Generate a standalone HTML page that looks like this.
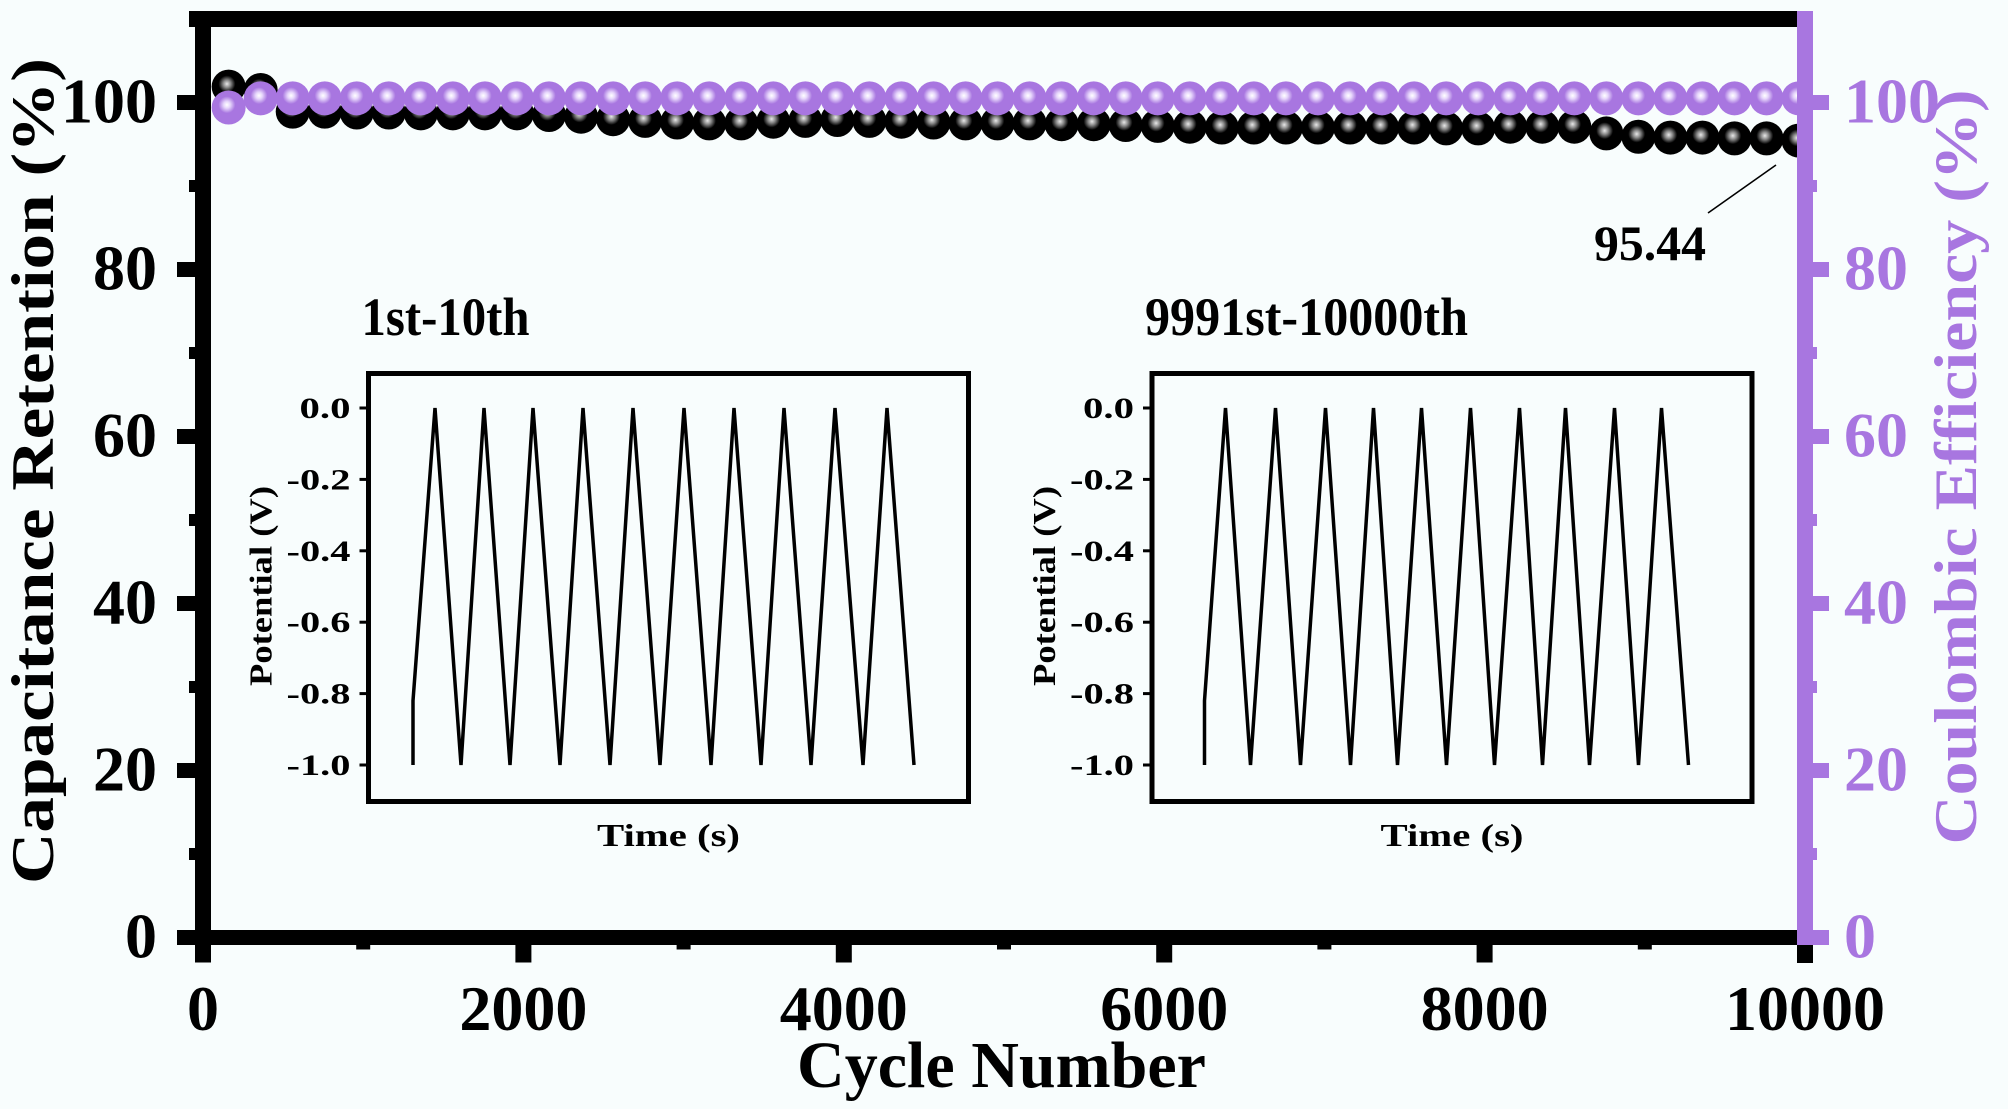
<!DOCTYPE html>
<html><head><meta charset="utf-8"><style>
html,body{margin:0;padding:0;background:#f8fdfd;}
svg{display:block;font-family:"Liberation Serif",serif;}
</style></head><body>
<svg id="chart" width="2008" height="1109" viewBox="0 0 2008 1109" xmlns="http://www.w3.org/2000/svg">
<defs>
<radialGradient id="gp" cx="0.45" cy="0.42" r="0.55"><stop offset="0" stop-color="#ffffff"/><stop offset="0.18" stop-color="#e6d6fb"/><stop offset="0.45" stop-color="#a876e0"/><stop offset="1" stop-color="#a876e0"/></radialGradient>
<radialGradient id="gb" cx="0.45" cy="0.42" r="0.55"><stop offset="0" stop-color="#e8e8e8"/><stop offset="0.2" stop-color="#8a8a8a"/><stop offset="0.45" stop-color="#000"/><stop offset="1" stop-color="#000"/></radialGradient>
</defs>
<rect width="2008" height="1109" fill="#f8fdfd"/>
<g id="marks"></g>
<g id="axes"></g>
<g id="insets"></g>
<text transform="translate(53,471) rotate(-90)" text-anchor="middle" font-size="60" font-weight="bold" textLength="826" lengthAdjust="spacingAndGlyphs">Capacitance Retention (%)</text>
<text transform="translate(1976,467) rotate(-90)" text-anchor="middle" font-size="60" font-weight="bold" fill="#a876e0" textLength="755" lengthAdjust="spacingAndGlyphs">Coulombic Efficiency (%)</text>
<text x="797" y="1087" font-size="66" font-weight="bold" textLength="409" lengthAdjust="spacingAndGlyphs">Cycle Number</text>
<text x="1594" y="260" font-size="50" font-weight="bold" textLength="112" lengthAdjust="spacingAndGlyphs">95.44</text>
<line x1="1708" y1="213" x2="1776" y2="165" stroke="#000" stroke-width="1.6"/>
</svg>
<script>
// ---- main chart data ----
const cycles = [160,360,560,760,960,1160,1360,1560,1760,1960,2160,2360,2560,2760,2960,3160,3360,3560,3760,3960,4160,4360,4560,4760,4960,5160,5360,5560,5760,5960,6160,6360,6560,6760,6960,7160,7360,7560,7760,7960,8160,8360,8560,8760,8960,9160,9360,9560,9760,9960];
const retention = [101.9,101.5,98.9,98.9,98.8,98.8,98.7,98.7,98.7,98.7,98.5,98.3,98.0,97.8,97.6,97.5,97.5,97.7,97.8,97.9,97.8,97.7,97.6,97.5,97.5,97.5,97.4,97.4,97.3,97.2,97.1,97.0,97.0,97.0,97.0,97.0,97.0,97.0,96.9,96.9,97.1,97.1,97.1,96.3,95.9,95.8,95.8,95.7,95.7,95.44];
const efficiency = [99.4,100.5,100.5,100.5,100.5,100.5,100.5,100.5,100.5,100.5,100.5,100.5,100.5,100.5,100.5,100.5,100.5,100.5,100.5,100.5,100.5,100.5,100.5,100.5,100.5,100.5,100.5,100.5,100.5,100.5,100.5,100.5,100.5,100.5,100.5,100.5,100.5,100.5,100.5,100.5,100.5,100.5,100.5,100.5,100.5,100.5,100.5,100.5,100.5,100.5];
const xTicks = [0,2000,4000,6000,8000,10000];
const xTickLabels = ["0","2000","4000","6000","8000","10000"];
const yTicks = [0,20,40,60,80,100];
const yTickLabels = ["0","20","40","60","80","100"];
// ---- inset data (time in s, potential in V) ----
const inset1Time = [42,42,64,90,113,139,162,189,212,239,262,289,313,340,363,390,413,440,464,492,516,543];
const inset1Pot  = [-1.0,-0.82,0.0,-1.0,0.0,-1.0,0.0,-1.0,0.0,-1.0,0.0,-1.0,0.0,-1.0,0.0,-1.0,0.0,-1.0,0.0,-1.0,0.0,-1.0];
const inset2Time = [50,50,71,96,121,146,171,196,219,243,267,292,316,340,365,388,411,435,460,484,507,534];
const inset2Pot  = [-1.0,-0.82,0.0,-1.0,0.0,-1.0,0.0,-1.0,0.0,-1.0,0.0,-1.0,0.0,-1.0,0.0,-1.0,0.0,-1.0,0.0,-1.0,0.0,-1.0];
const insetTicks = [0.0,-0.2,-0.4,-0.6,-0.8,-1.0];
const insetTickLabels = ["0.0","-0.2","-0.4","-0.6","-0.8","-1.0"];

const NS="http://www.w3.org/2000/svg";
function mk(tag,attrs,parent){const e=document.createElementNS(NS,tag);for(const k in attrs)e.setAttribute(k,attrs[k]);parent.appendChild(e);return e;}
const X0=203,X1=1805,Y0=937.5,Y100=102.5;
function xs(c){return X0+(c/10000)*(X1-X0);}
function ys(v){return Y0-(v/100)*(Y0-Y100);}

const marks=document.getElementById('marks');
retention.forEach((v,i)=>{
  const c=mk('circle',{cx:xs(cycles[i]),cy:ys(v),r:17,fill:'url(#gb)'},marks);
  
  
});
efficiency.forEach((v,i)=>{
  const c=mk('circle',{cx:xs(cycles[i]),cy:ys(v),r:17,fill:'url(#gp)'},marks);
  
  
});

const axes=document.getElementById('axes');
let e;
e=mk('rect',{x:1813,y:0,width:195,height:1109,fill:'#f8fdfd'},axes);


e=mk('line',{x1:189,y1:19,x2:1805,y2:19,stroke:'#000','stroke-width':16},axes);


e=mk('line',{x1:203,y1:11,x2:203,y2:945,stroke:'#000','stroke-width':16},axes);


e=mk('line',{x1:195,y1:Y0,x2:1805,y2:Y0,stroke:'#000','stroke-width':15},axes);


e=mk('line',{x1:1805,y1:11,x2:1805,y2:945,stroke:'#a876e0','stroke-width':16},axes);


e=mk('rect',{x:1797,y:945,width:16,height:18,fill:'#000'},axes);


xTicks.forEach((t,i)=>{
  const x=xs(t);
  const tk=mk('rect',{x:x-8,y:Y0,width:16,height:i==5?0:25,fill:'#000'},axes);
  
  
  if(i<5){const mn=mk('rect',{x:xs(t+1000)-7,y:Y0,width:14,height:12,fill:'#000'},axes);
  
  }
  const lb=mk('text',{x:x,y:1030,'text-anchor':'middle','font-size':64,'font-weight':'bold'},axes);
  lb.textContent=xTickLabels[i];
  
  
});
yTicks.forEach((t,i)=>{
  const y=ys(t);
  const tk=mk('rect',{x:177,y:y-7.5,width:20,height:15,fill:'#000'},axes);
  
  
  if(i<5){const mn=mk('rect',{x:189,y:ys(t+10)-6,width:10,height:12,fill:'#000'},axes);
  
  
  const mn2=mk('rect',{x:1811,y:ys(t+10)-6,width:6,height:12,fill:'#a876e0'},axes);
  
  }
  const lb=mk('text',{x:157,y:y+20,'text-anchor':'end','font-size':64,'font-weight':'bold'},axes);
  lb.textContent=yTickLabels[i];
  
  
  const tk2=mk('rect',{x:1805,y:y-7.5,width:24,height:15,fill:'#a876e0'},axes);
  
  
  const lb2=mk('text',{x:1844,y:y+20,'font-size':64,'font-weight':'bold',fill:'#a876e0'},axes);
  lb2.textContent=yTickLabels[i];
  
  
});

const insets=document.getElementById('insets');
function drawInset(left,title,titleLen,times,pots,name){
  const g=mk('g',{},insets);
  
  
  const W=600,top=373.5,bottom=801.5;
  const iy0=408,iy1=765;
  const iys=v=>iy0+(0-v)*(iy1-iy0);
  const ixs=t=>left+2.5+t;
  const b=mk('rect',{x:left,y:top,width:W,height:bottom-top,fill:'none',stroke:'#000','stroke-width':5},g);
  
  
  insetTicks.forEach((t,i)=>{
    const tk=mk('line',{x1:left-9,y1:iys(t),x2:left,y2:iys(t),stroke:'#000','stroke-width':3},g);
    
    
    const lab=insetTickLabels[i];
    const lb=mk('text',{x:left-18,y:iys(t)+10,'text-anchor':'end','font-size':30,'font-weight':'bold',textLength:lab.length==3?51:64,lengthAdjust:'spacingAndGlyphs'},g);
    lb.textContent=lab;
    
    
  });
  const pts=times.map((t,i)=>ixs(t)+','+iys(pots[i])).join(' ');
  const pl=mk('polyline',{points:pts,fill:'none',stroke:'#000','stroke-width':3.5,'stroke-linejoin':'miter'},g);
  
  
  const yl=mk('text',{transform:`translate(${left-97},586) rotate(-90)`,'text-anchor':'middle','font-size':32,'font-weight':'bold',textLength:200,lengthAdjust:'spacingAndGlyphs'},g);
  yl.textContent='Potential (V)';
  
  
  const xl=mk('text',{x:left+300,y:846,'text-anchor':'middle','font-size':32,'font-weight':'bold',textLength:143,lengthAdjust:'spacingAndGlyphs'},g);
  xl.textContent='Time (s)';
  
  
  const tl=mk('text',{x:left-7,y:335,'font-size':54,'font-weight':'bold',textLength:titleLen,lengthAdjust:'spacingAndGlyphs'},g);
  tl.textContent=title;
  
  
}
drawInset(368.5,'1st-10th',168,inset1Time,inset1Pot,'inset-first-cycles');
drawInset(1152,'9991st-10000th',323,inset2Time,inset2Pot,'inset-last-cycles');
</script>
</body></html>
